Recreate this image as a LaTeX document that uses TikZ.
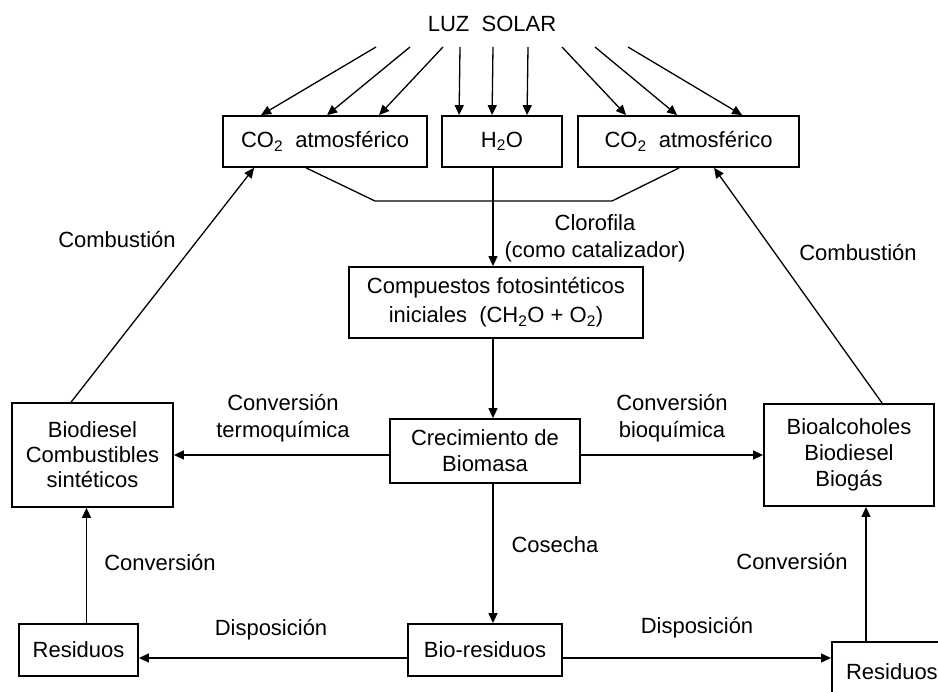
\documentclass[tikz,border=0pt]{standalone}
\usepackage{fontspec}
\setmainfont{Liberation Sans}
\usetikzlibrary{arrows.meta,calc}

\begin{document}
\begin{tikzpicture}[x=1pt,y=-1pt,
  every node/.style={font=\fontsize{22}{26}\selectfont,inner sep=0pt,align=center},
  box/.style={draw,line width=1.8pt},
  link/.style={line width=1.3pt},
  arrow/.style={link,-{Triangle[length=10pt,width=9pt]}}]
\useasboundingbox (0,0) rectangle (938,692);
\clip (0,0) rectangle (938,692);

% Text Node
\node (luz) at (492,24) {LUZ\ \ SOLAR};

%Shape: Rectangle
\node [box,minimum width=204pt,minimum height=51pt] (co2l) at (325,141.5) {CO\textsubscript{2}\ \ atmosférico};
%Shape: Rectangle
\node [box,minimum width=120pt,minimum height=51pt] (h2o) at (502,141.5) {H\textsubscript{2}O};
%Shape: Rectangle
\node [box,minimum width=221pt,minimum height=51pt] (co2r) at (688.5,141.5) {CO\textsubscript{2}\ \ atmosférico};
%Shape: Rectangle
\node [box,minimum width=294pt,minimum height=71pt,font=\fontsize{22}{29}\selectfont] (comp) at (496,302.5) {Compuestos fotosintéticos\\iniciales\ \ (CH\textsubscript{2}O + O\textsubscript{2})};
%Shape: Rectangle
\node [box,minimum width=190pt,minimum height=64pt] (crec) at (485,451) {Crecimiento de\\Biomasa};
%Shape: Rectangle
\node [box,minimum width=161pt,minimum height=104pt,font=\fontsize{22}{25}\selectfont] (fuel1) at (92.5,455) {Biodiesel\\Combustibles\\sintéticos};
%Shape: Rectangle
\node [box,minimum width=170pt,minimum height=102pt] (fuel2) at (849,455) {Bioalcoholes\\Biodiesel\\Biogás};
%Shape: Rectangle
\node [box,minimum width=119pt,minimum height=52pt] (res1) at (78.5,650) {Residuos};
%Shape: Rectangle
\node [box,minimum width=154pt,minimum height=52pt] (biores) at (485,650) {Bio-residuos};
%Shape: Rectangle (runs off the page)
\node [box,minimum width=120pt,minimum height=60pt,anchor=north west] (res2) at (831,641) {Residuos};

% Text Node
\node [font=\fontsize{22}{27}\selectfont] (clor) at (595,238.5) {Clorofila\\(como catalizador)};
% Text Node
\node (comb1) at (117,240) {Combustión};
% Text Node
\node (comb2) at (858,253) {Combustión};
% Text Node
\node [font=\fontsize{22}{27}\selectfont] (termo) at (283,418.5) {Conversión\\termoquímica};
% Text Node
\node [font=\fontsize{22}{27}\selectfont] (bioq) at (672,418.5) {Conversión\\bioquímica};
% Text Node
\node (cos) at (555,545) {Cosecha};
% Text Node
\node (conv1) at (160,563) {Conversión};
% Text Node
\node (conv2) at (792,562) {Conversión};
% Text Node
\node (disp1) at (271,630) {Disposición};
% Text Node
\node (disp2) at (697,628) {Disposición};

%Straight Lines (sunlight)
\coordinate (sun1) at (376,47);
\coordinate (sun2) at (410,47);
\coordinate (sun3) at (443,47);
\coordinate (sun4) at (460,47);
\coordinate (sun5) at (493,47);
\coordinate (sun6) at (528,47);
\coordinate (sun7) at (562,47);
\coordinate (sun8) at (595,47);
\coordinate (sun9) at (628,47);
\draw [arrow] (sun1) -- ($(co2l.north west)+(39,0)$);
\draw [arrow] (sun2) -- ($(co2l.north west)+(105,0)$);
\draw [arrow] (sun3) -- ($(co2l.north west)+(157,0)$);
\draw [arrow] (sun4) -- ($(h2o.north west)+(18,0)$);
\draw [arrow] (sun5) -- ($(h2o.north west)+(51,0)$);
\draw [arrow] (sun6) -- ($(h2o.north west)+(86,0)$);
\draw [arrow] (sun7) -- ($(co2r.north west)+(49,0)$);
\draw [arrow] (sun8) -- ($(co2r.north west)+(100,0)$);
\draw [arrow] (sun9) -- ($(co2r.north west)+(165,0)$);

%Straight Lines (CO2 join)
\coordinate (j1) at (375,201);
\coordinate (j2) at (612,201);
\draw [link] ($(co2l.south west)+(84,0)$) -- (j1) -- (j2) -- ($(co2r.south west)+(102,0)$);

%Straight Lines (main column)
\coordinate (spine) at (493,0);
\draw [arrow] (h2o.south -| spine) -- (comp.north -| spine);
\draw [arrow] (comp.south -| spine) -- (crec.north -| spine);
\draw [arrow] (crec.south -| spine) -- (biores.north -| spine);

%Straight Lines (combustion)
\draw [arrow] ($(fuel1.north west)+(60,0)$) -- ($(co2l.south west)+(32,0)$);
\draw [arrow] ($(fuel2.north west)+(119,0)$) -- ($(co2r.south west)+(137,0)$);

%Straight Lines (conversion)
\draw [arrow] (crec.west |- fuel1.east) -- (fuel1.east);
\draw [arrow] (crec.east |- fuel2.west) -- (fuel2.west);

%Straight Lines (disposal)
\coordinate (d1) at ($(biores.west)+(0,8)$);
\coordinate (d2) at ($(biores.east)+(0,8)$);
\draw [arrow] (d1) -- (d1 -| res1.east);
\draw [arrow] (d2) -- (d2 -| res2.west);

%Straight Lines (residue conversion)
\coordinate (u1) at ($(res1.north)+(8,0)$);
\coordinate (u2) at ($(res2.north west)+(35,0)$);
\draw [arrow] (u1) -- (u1 |- fuel1.south);
\draw [arrow] (u2) -- (u2 |- fuel2.south);

\end{tikzpicture}
\end{document}
